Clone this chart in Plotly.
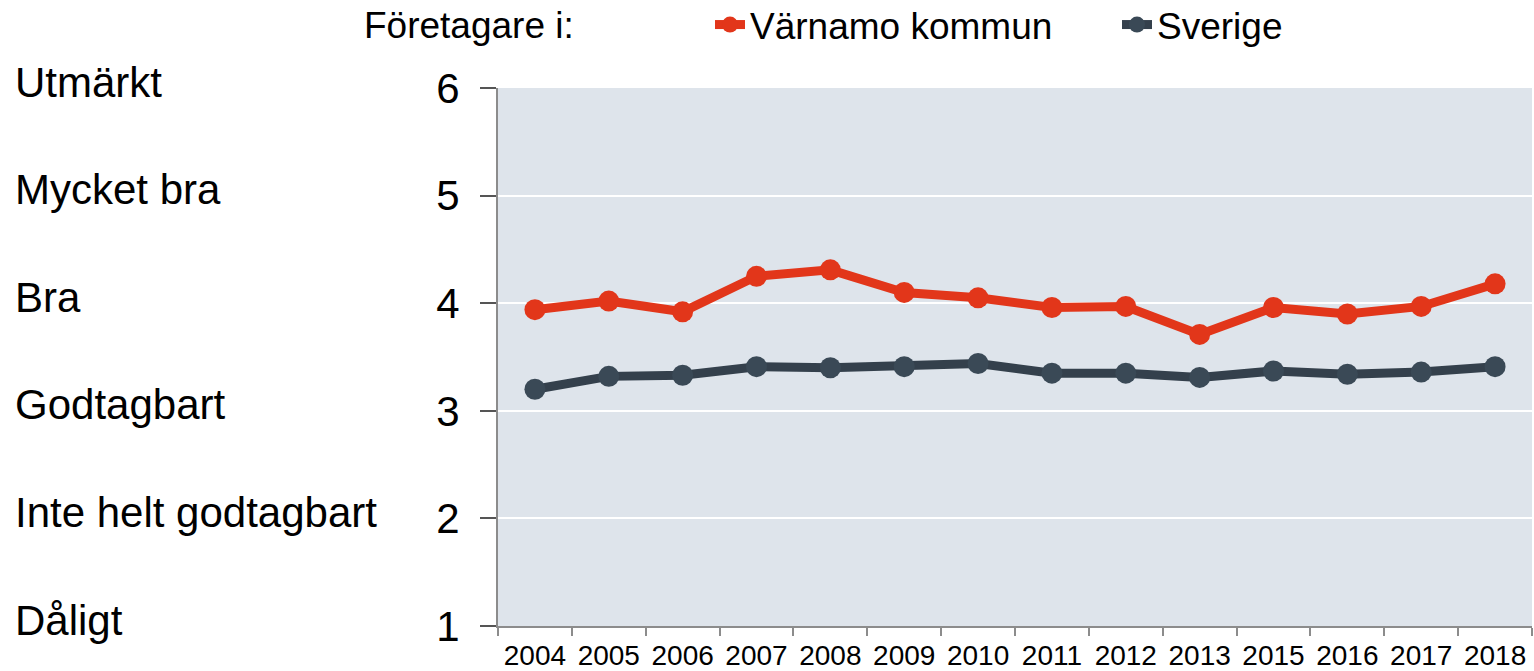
import plotly.graph_objects as go

years = ["2004", "2005", "2006", "2007", "2008", "2009", "2010", "2011",
         "2012", "2013", "2015", "2016", "2017", "2018"]
varnamo = [3.94, 4.02, 3.92, 4.25, 4.31, 4.10, 4.05, 3.96, 3.97, 3.71, 3.96, 3.90, 3.97, 4.18]
sverige = [3.20, 3.32, 3.33, 3.41, 3.40, 3.41, 3.44, 3.35, 3.35, 3.31, 3.37, 3.34, 3.36, 3.41]
scale_labels = ["Dåligt", "Inte helt godtagbart", "Godtagbart", "Bra", "Mycket bra", "Utmärkt"]
scale_values = [1, 2, 3, 4, 5, 6]

RED = "#E2361A"
DARK = "#34404C"
DARK_MK = "#3A4956"
FONT = "Liberation Sans, Arial, sans-serif"

W, H = 1534, 671
L, R, T, B = 498, 2, 88, 45
pw = W - L - R
ph = H - T - B

def px_x(x):  # page x -> paper x
    return (x - L) / pw

def px_y(y):  # page y -> paper y
    return (H - B - y) / ph

fig = go.Figure()
fig.add_trace(go.Scatter(x=years, y=varnamo, name="Värnamo kommun", mode="lines+markers",
                         line=dict(color=RED, width=9), marker=dict(color=RED, size=21)))
fig.add_trace(go.Scatter(x=years, y=sverige, name="Sverige", mode="lines+markers",
                         line=dict(color=DARK, width=9), marker=dict(color=DARK_MK, size=21)))

for lab, v in zip(scale_labels, scale_values):
    fig.add_annotation(text=lab, xref="paper", yref="y", x=px_x(13), y=v, yshift=6,
                       xanchor="left", yanchor="middle", showarrow=False,
                       font=dict(size=42, color="black", family=FONT))

fig.add_annotation(text="Företagare i:", xref="paper", yref="paper",
                   x=px_x(362), y=px_y(26),
                   xanchor="left", yanchor="middle", showarrow=False,
                   font=dict(size=37, color="black", family=FONT))

fig.update_layout(
    width=W, height=H,
    margin=dict(l=L, r=R, t=T, b=B, autoexpand=False),
    paper_bgcolor="white", plot_bgcolor="#DEE4EB",
    font=dict(family=FONT, color="black"),
    showlegend=True,
    legend=dict(orientation="h", xref="paper", yref="paper",
                x=px_x(710), y=px_y(25),
                xanchor="left", yanchor="middle",
                font=dict(size=37, family=FONT, color="black"),
                bgcolor="rgba(0,0,0,0)", entrywidth=362, entrywidthmode="pixels",
                tracegroupgap=0),
    xaxis=dict(type="category", showgrid=False, showline=True, linecolor="#8C8C8C", linewidth=2,
               ticks="outside", ticklen=8, tickcolor="#8C8C8C", tickwidth=1.5,
               tickson="boundaries", tickfont=dict(size=28, family=FONT, color="black"),
               ticklabelstandoff=3, range=[-0.5, len(years) - 0.5]),
    yaxis=dict(range=[1, 6], tickvals=scale_values, showgrid=True, gridcolor="white", gridwidth=2,
               showline=True, linecolor="#8C8C8C", linewidth=2,
               ticks="outside", ticklen=16, tickcolor="#555555", tickwidth=1.5,
               tickfont=dict(size=42, family=FONT, color="black"), ticklabelstandoff=12,
               zeroline=False),
)

fig.write_html("out.html", config={"displayModeBar": False},
               post_script="document.body.style.margin='0';")
